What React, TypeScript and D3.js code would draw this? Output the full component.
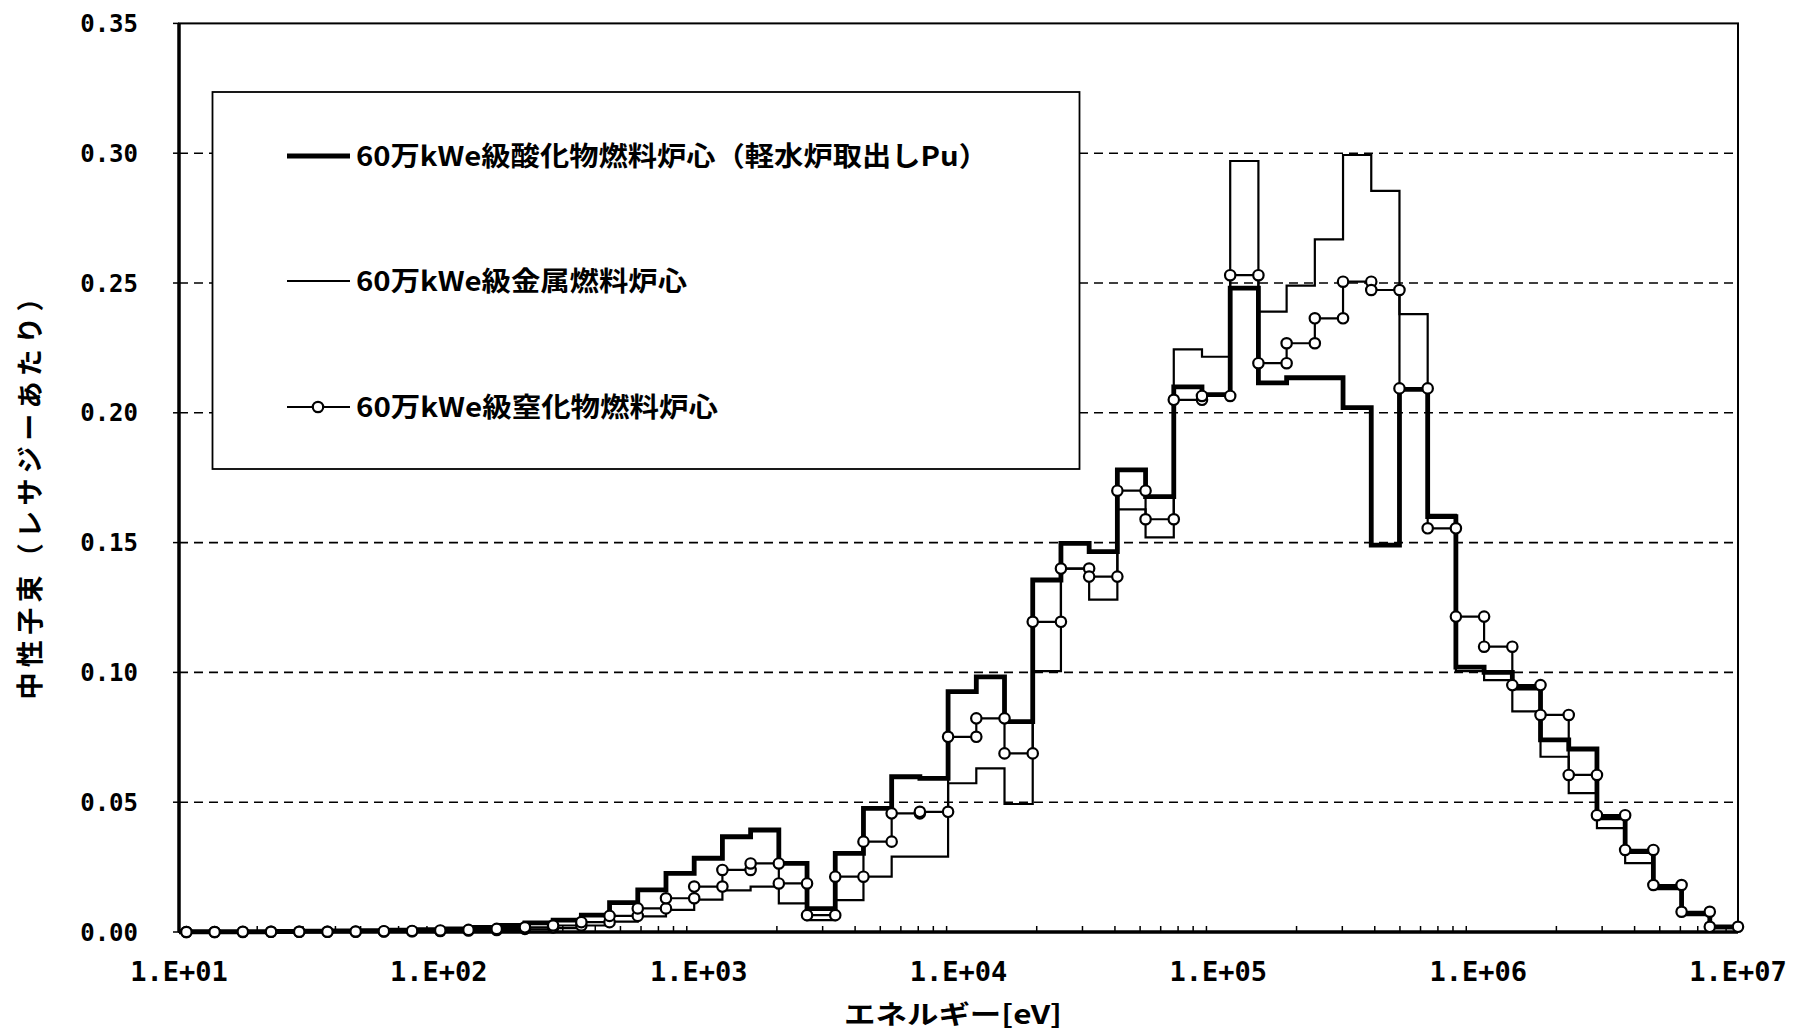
import React, { Component } from 'react';
import * as d3 from 'd3';

// 70-group boundaries [eV], highest first (lethargy width 0.25)
const groupBounds = [
    1.0e7, 7.788e6, 6.0653e6, 4.7237e6, 3.6788e6, 2.865e6, 2.2313e6, 1.7377e6, 1.3534e6, 1.054e6,
    8.2085e5, 6.3928e5, 4.9787e5, 3.8774e5, 3.0197e5, 2.3518e5, 1.8316e5, 1.4264e5, 1.1109e5, 8.6517e4,
    6.7379e4, 5.2475e4, 4.0868e4, 3.1828e4, 2.4788e4, 1.9305e4, 1.5034e4, 1.1709e4, 9.1188e3, 7.1017e3,
    5.5308e3, 4.3074e3, 3.3546e3, 2.6126e3, 2.0347e3, 1.5846e3, 1.2341e3, 961.12, 748.52, 582.95,
    454.0, 353.58, 275.36, 214.45, 167.02, 130.07, 101.3, 78.893, 61.442, 47.851,
    37.267, 29.023, 22.603, 17.604, 13.71, 10.677, 8.3153
];

// flux per lethargy, group 1 (highest energy) first
const oxideFlux = [
    0.002, 0.0072, 0.0175, 0.031, 0.044, 0.0705, 0.074, 0.094, 0.1, 0.102,
    0.16, 0.209, 0.149, 0.202, 0.2135, 0.2135, 0.2115, 0.248, 0.207, 0.21,
    0.1677, 0.178, 0.1465, 0.1497, 0.1356, 0.081, 0.0983, 0.0926, 0.0592, 0.0598,
    0.0476, 0.0303, 0.009, 0.0264, 0.0393, 0.0367, 0.0284, 0.0226, 0.0162, 0.0113,
    0.0065, 0.0046, 0.0035, 0.0025, 0.0018, 0.0012, 0.0009, 0.0007, 0.0005, 0.0004,
    0.0003, 0.0002, 0.0001, 0.0001, 0.0001, 0.0001
];

const metalFlux = [
    0.0015, 0.0065, 0.0165, 0.0265, 0.04, 0.0535, 0.0675, 0.085, 0.097, 0.1005,
    0.1607, 0.238, 0.2855, 0.2993, 0.2668, 0.249, 0.239, 0.297, 0.2216, 0.2244,
    0.152, 0.1628, 0.128, 0.14, 0.1005, 0.0493, 0.063, 0.0573, 0.029, 0.029,
    0.0213, 0.0123, 0.0046, 0.011, 0.0175, 0.016, 0.0125, 0.0085, 0.006, 0.004,
    0.0025, 0.0015, 0.001, 0.0007, 0.0005, 0.0003, 0.0002, 0.0001, 0.0001, 0.0001,
    0.0001, 0.0001, 0, 0, 0, 0
];

const nitrideFlux = [
    0.002, 0.0078, 0.0181, 0.0316, 0.045, 0.0605, 0.0836, 0.0951, 0.1099, 0.1215,
    0.1555, 0.2094, 0.2473, 0.2505, 0.2364, 0.2268, 0.2191, 0.253, 0.2065, 0.205,
    0.159, 0.17, 0.1369, 0.14, 0.1195, 0.0688, 0.0823, 0.0752, 0.0463, 0.0457,
    0.0348, 0.0213, 0.0065, 0.0187, 0.0264, 0.0239, 0.0175, 0.013, 0.0091, 0.0062,
    0.0038, 0.0025, 0.0018, 0.0012, 0.0008, 0.0006, 0.0004, 0.0003, 0.0002, 0.0001,
    0.0001, 0.0001, 0.0001, 0, 0, 0
];

const yTicks = [0, 0.05, 0.1, 0.15, 0.2, 0.25, 0.3, 0.35];
const xTicks = [1e1, 1e2, 1e3, 1e4, 1e5, 1e6, 1e7];
const xTickLabels = ['1.E+01', '1.E+02', '1.E+03', '1.E+04', '1.E+05', '1.E+06', '1.E+07'];
const legendLabels = [
    '60万kWe級酸化物燃料炉心（軽水炉取出しPu）',
    '60万kWe級金属燃料炉心',
    '60万kWe級窒化物燃料炉心'
];
const xTitle = 'エネルギー[eV]';
const yTitle = '中性子束（レサジーあたり）';

const W = 1801, H = 1035;
const monoFont = '"DejaVu Sans Mono", "Liberation Mono", monospace';
const jpFont = '"Noto Sans CJK JP", "Noto Sans CJK SC", sans-serif';

class FluxChart extends Component {
    svg: SVGSVGElement | null = null;

    componentDidMount() {
        this.updateChart();
    }

    stepPoints(flux: number[]) {
        const pts: [number, number][] = [];
        for (let i = flux.length - 1; i >= 0; i--) {
            pts.push([groupBounds[i + 1], flux[i]]);
            pts.push([groupBounds[i], flux[i]]);
        }
        return pts;
    }

    updateChart() {
        const svg = d3.select(this.svg);
        svg.selectAll('*').remove();
        const plot = { left: 179, right: 1738, top: 23.4, bottom: 932 };
        const xScale = d3.scaleLog().domain([10, 1e7]).range([plot.left, plot.right]);
        const yScale = d3.scaleLinear().domain([0, 0.35]).range([plot.bottom, plot.top]);

        svg.append('rect').attr('width', W).attr('height', H).attr('fill', '#fff');

        svg.append('defs').append('clipPath').attr('id', 'plot-clip')
            .append('rect')
            .attr('x', plot.left).attr('y', 0)
            .attr('width', W - plot.left).attr('height', H);

        // dashed grid
        svg.selectAll('.grid')
            .data(yTicks.filter(t => t > 0 && t < 0.35))
            .enter().append('line')
            .attr('class', 'grid')
            .attr('x1', plot.left).attr('x2', plot.right)
            .attr('y1', d => yScale(d)).attr('y2', d => yScale(d))
            .attr('stroke', '#000').attr('stroke-width', 1.6)
            .attr('stroke-dasharray', '9 6');

        // frame
        svg.append('rect')
            .attr('x', plot.left).attr('y', plot.top)
            .attr('width', plot.right - plot.left).attr('height', plot.bottom - plot.top)
            .attr('fill', 'none').attr('stroke', '#000').attr('stroke-width', 2);
        svg.append('line')
            .attr('x1', plot.left).attr('x2', plot.left)
            .attr('y1', plot.top).attr('y2', plot.bottom)
            .attr('stroke', '#000').attr('stroke-width', 3.5);
        svg.append('line')
            .attr('x1', plot.left).attr('x2', plot.right)
            .attr('y1', plot.bottom).attr('y2', plot.bottom)
            .attr('stroke', '#000').attr('stroke-width', 3.5);

        // y ticks + labels
        svg.selectAll('.ytick')
            .data(yTicks)
            .enter().append('line')
            .attr('class', 'ytick')
            .attr('x1', plot.left - 6).attr('x2', plot.left)
            .attr('y1', d => yScale(d)).attr('y2', d => yScale(d))
            .attr('stroke', '#000').attr('stroke-width', 1.5);
        svg.selectAll('.ylabel')
            .data(yTicks)
            .enter().append('text')
            .attr('class', 'ylabel')
            .text(d => d3.format('.2f')(d))
            .attr('x', 138)
            .attr('y', d => yScale(d))
            .attr('dy', '0.36em')
            .attr('text-anchor', 'end')
            .attr('font-family', monoFont)
            .attr('font-weight', 'bold')
            .attr('font-size', 24);

        // x minor ticks (inside)
        const minor: number[] = [];
        xTicks.slice(0, -1).forEach(t => {
            for (let m = 2; m <= 9; m++) minor.push(t * m);
        });
        svg.selectAll('.xminor')
            .data(minor)
            .enter().append('line')
            .attr('class', 'xminor')
            .attr('x1', d => xScale(d)).attr('x2', d => xScale(d))
            .attr('y1', plot.bottom).attr('y2', plot.bottom - 6)
            .attr('stroke', '#000').attr('stroke-width', 1.5);
        svg.selectAll('.xlabel')
            .data(xTicks)
            .enter().append('text')
            .attr('class', 'xlabel')
            .text((d, i) => xTickLabels[i])
            .attr('x', d => xScale(d))
            .attr('y', 981)
            .attr('text-anchor', 'middle')
            .attr('font-family', monoFont)
            .attr('font-weight', 'bold')
            .attr('font-size', 27);

        // axis titles
        svg.append('text')
            .text(xTitle)
            .attr('x', 953).attr('y', 1024)
            .attr('text-anchor', 'middle')
            .attr('font-family', jpFont)
            .attr('font-weight', 'bold')
            .attr('font-size', 26)
            .attr('textLength', 218)
            .attr('lengthAdjust', 'spacingAndGlyphs');
        svg.append('text')
            .text(yTitle)
            .attr('transform', 'translate(30, 492) rotate(-90)')
            .attr('text-anchor', 'middle')
            .attr('dy', '0.36em')
            .attr('font-family', jpFont)
            .attr('font-weight', 'bold')
            .attr('font-size', 27)
            .attr('textLength', 415)
            .attr('lengthAdjust', 'spacing');

        // series
        const line = d3.line<[number, number]>()
            .x(d => xScale(d[0]))
            .y(d => yScale(d[1]));
        const series = svg.append('g').attr('clip-path', 'url(#plot-clip)');
        series.append('path')
            .attr('d', line(this.stepPoints(metalFlux)))
            .attr('fill', 'none').attr('stroke', '#000').attr('stroke-width', 2.2);
        series.append('path')
            .attr('d', line(this.stepPoints(oxideFlux)))
            .attr('fill', 'none').attr('stroke', '#000').attr('stroke-width', 4.8);
        const nitridePts = this.stepPoints(nitrideFlux);
        series.append('path')
            .attr('d', line(nitridePts))
            .attr('fill', 'none').attr('stroke', '#000').attr('stroke-width', 2.2);
        series.selectAll('.nitride-pt')
            .data(nitridePts)
            .enter().append('circle')
            .attr('class', 'nitride-pt')
            .attr('cx', d => xScale(d[0]))
            .attr('cy', d => yScale(d[1]))
            .attr('r', 5.2)
            .attr('fill', '#fff').attr('stroke', '#000').attr('stroke-width', 2.2);

        // legend
        const legend = svg.append('g');
        legend.append('rect')
            .attr('x', 212.5).attr('y', 92)
            .attr('width', 867).attr('height', 377)
            .attr('fill', '#fff').attr('stroke', '#000').attr('stroke-width', 1.8);
        const legendY = [156, 281, 407];
        const legendWidth = [632, 331, 362];
        const legendStroke = [4.8, 2.2, 2.2];
        legendLabels.forEach((label, i) => {
            legend.append('line')
                .attr('x1', 287).attr('x2', 350)
                .attr('y1', legendY[i]).attr('y2', legendY[i])
                .attr('stroke', '#000').attr('stroke-width', legendStroke[i]);
            if (i === 2) {
                legend.append('circle')
                    .attr('cx', 318).attr('cy', legendY[i]).attr('r', 5.2)
                    .attr('fill', '#fff').attr('stroke', '#000').attr('stroke-width', 2.2);
            }
            legend.append('text')
                .text(label)
                .attr('x', 356).attr('y', legendY[i])
                .attr('dy', '0.36em')
                .attr('font-family', jpFont)
                .attr('font-weight', 'bold')
                .attr('font-size', 27)
                .attr('textLength', legendWidth[i])
                .attr('lengthAdjust', 'spacingAndGlyphs');
        });
    }

    render() {
        return (
            <svg width={W} height={H} ref={node => { this.svg = node; }}
                 style={{ position: 'absolute', left: 0, top: 0, display: 'block' }} />
        );
    }
}

export default function App() {
    return <FluxChart />;
}
